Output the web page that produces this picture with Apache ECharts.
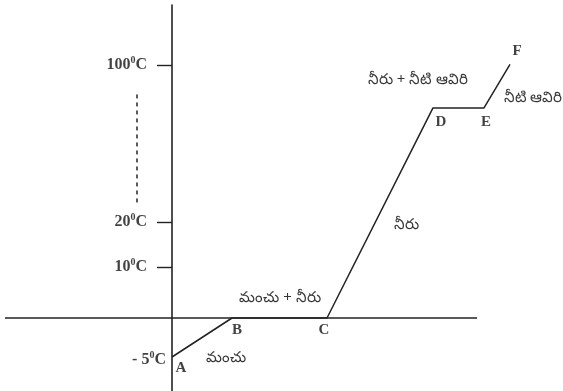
<!DOCTYPE html>
<html>
<head>
<meta charset="utf-8">
<script src="https://cdn.jsdelivr.net/npm/echarts@6/dist/echarts.min.js"></script>
<style>
html,body{margin:0;padding:0;background:#fff;}
#c{width:563px;height:391px;}
</style>
</head>
<body>
<div id="c"></div>
<script>
// Heating curve of water (schematic; y = position on the broken temperature axis)
const pointNames = ['A', 'B', 'C', 'D', 'E', 'F'];
const curveX = [0, 6.0, 15.5, 26.1, 31.2, 33.8];
const curveY = [-7.5, 0, 0, 40.4, 40.4, 48.8];

const baseX = [-16.7, 30.5];
const baseY = [0, 0];

const tickLevels = [48.65, 18.46, 9.8];
const tickLabels = ['100', '20', '10'];
const lowLevel = -7.5;
const lowLabel = '- 5';

const dashX = [-3.5, -3.5];
const dashY = [43.0, 21.5];

const phaseTexts = ['మంచు', 'మంచు + నీరు', 'నీరు', 'నీరు + నీటి ఆవిరి', 'నీటి ఆవిరి'];
const phaseX = [5.4, 10.8, 23.4, 24.6, 36.1];
const phaseY = [-7.7, 3.85, 17.9, 45.8, 42.3];

const letterOffsets = [[9, 11], [5, 12], [-3, 12], [8, 14], [2, 14], [7, -13]];

const serif = '"Liberation Serif", "DejaVu Serif", serif';
const rich = {
  n: { fontFamily: serif, fontWeight: 'bold', fontSize: 16, color: '#111', lineHeight: 20 },
  s: { fontFamily: serif, fontWeight: 'bold', fontSize: 10, color: '#111', lineHeight: 20, verticalAlign: 'top', padding: [0, 0, 10, 0] }
};
function degLabel(t) { return '{n|' + t + '}{s|0}{n|C}'; }

const chart = echarts.init(document.getElementById('c'));
chart.setOption({
  animation: false,
  backgroundColor: '#fff',
  grid: { left: 5, right: 33, top: 5, bottom: 0, containLabel: false, outerBoundsMode: 'none' },
  xAxis: {
    type: 'value', min: -16.7, max: 35.8,
    axisLine: { show: false, onZero: true },
    axisTick: { show: false }, axisLabel: { show: false }, splitLine: { show: false }
  },
  yAxis: {
    type: 'value', min: -14.04, max: 60.2,
    axisLine: { show: true, onZero: true, lineStyle: { color: '#222', width: 1.6 } },
    axisTick: { show: true, length: 15, customValues: tickLevels, lineStyle: { color: '#222', width: 1.4 } },
    axisLabel: { show: false },
    splitLine: { show: false }
  },
  series: [
    {
      type: 'line', clip: false, silent: true, symbol: 'none',
      lineStyle: { color: '#222', width: 1.6 },
      data: baseX.map((x, i) => [x, baseY[i]])
    },
    {
      type: 'line', clip: false, silent: true, symbol: 'none',
      lineStyle: { color: '#222', width: 1.5 },
      data: curveX.map((x, i) => [x, curveY[i]])
    },
    {
      type: 'line', clip: false, silent: true, symbol: 'none',
      lineStyle: { color: '#333', width: 1.6, type: [4, 4] },
      data: dashX.map((x, i) => [x, dashY[i]])
    },
    {
      type: 'scatter', clip: false, silent: true, symbolSize: 0,
      data: curveX.map((x, i) => ({ value: [x, curveY[i]], name: pointNames[i] })),
      label: {
        show: true, position: 'inside', formatter: p => p.name,
        fontFamily: serif, fontWeight: 'bold', fontSize: 15, color: '#111'
      },
      labelLayout: function (p) {
        return { dx: letterOffsets[p.dataIndex][0], dy: letterOffsets[p.dataIndex][1] };
      }
    },
    {
      type: 'scatter', clip: false, silent: true, symbolSize: 0,
      data: tickLevels.map((v, i) => ({ value: [0, v], name: tickLabels[i] })),
      label: { show: true, position: 'left', distance: 25, offset: [0, 0], rich: rich, formatter: p => degLabel(p.name) }
    },
    {
      type: 'scatter', clip: false, silent: true, symbolSize: 0,
      data: [[0, lowLevel]],
      label: { show: true, position: 'left', distance: 6, offset: [0, 3], rich: rich, formatter: () => degLabel(lowLabel) }
    },
    {
      type: 'scatter', clip: false, silent: true, symbolSize: 0,
      data: phaseX.map((x, i) => ({ value: [x, phaseY[i]], name: phaseTexts[i] })),
      label: {
        show: true, position: 'inside', formatter: p => p.name,
        fontFamily: '"Noto Sans", "DejaVu Sans", sans-serif', fontSize: 15, color: '#000'
      }
    }
  ]
});
</script>
</body>
</html>
